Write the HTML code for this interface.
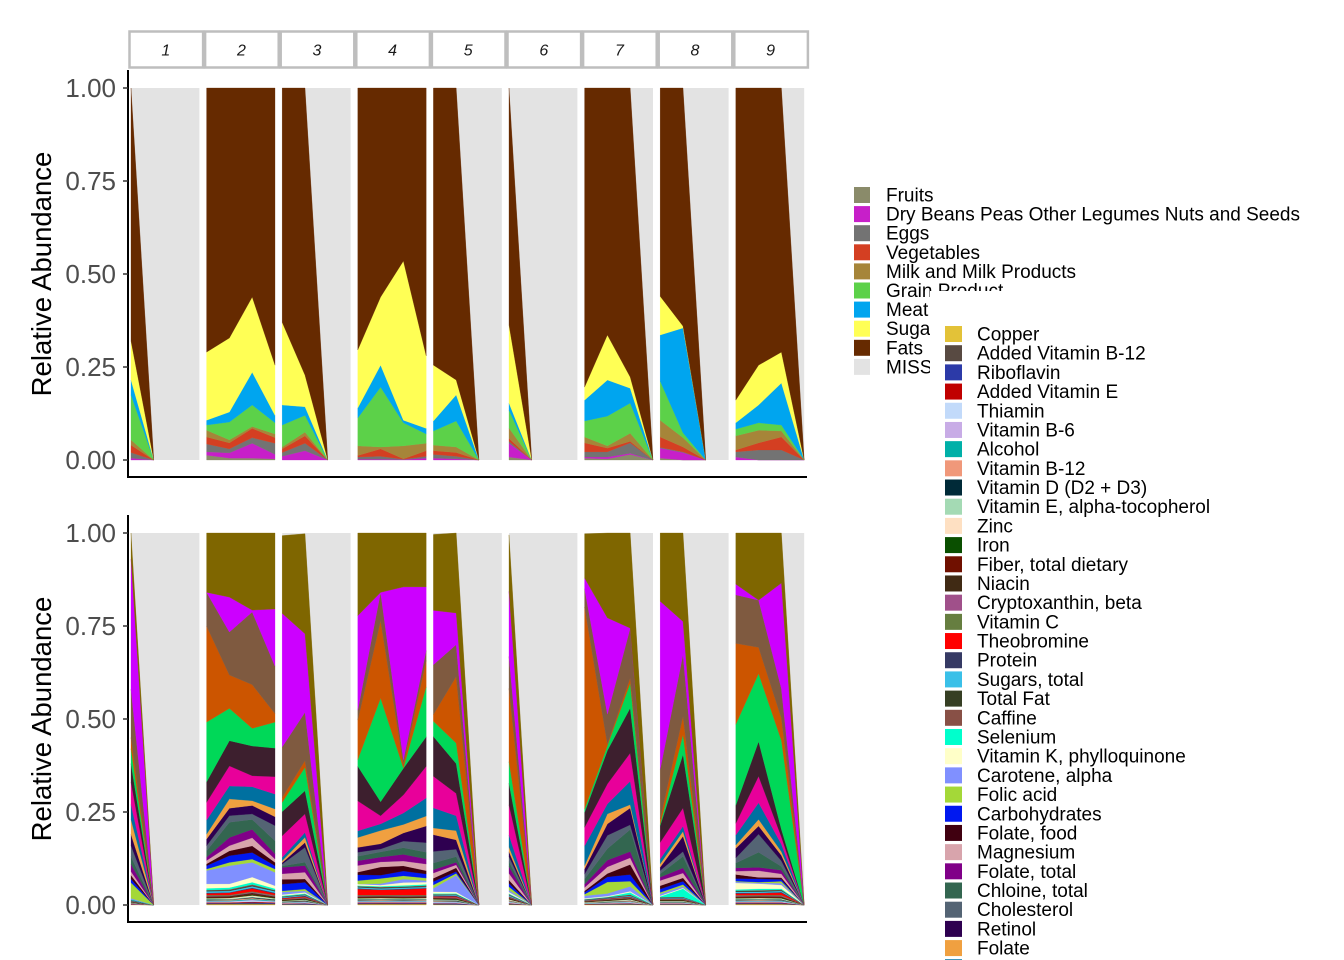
<!DOCTYPE html>
<html><head><meta charset="utf-8">
<style>
html,body{margin:0;padding:0;background:#fff;overflow:hidden;width:1344px;height:960px}
svg{display:block;font-family:"Liberation Sans",Arial,sans-serif}
</style></head>
<body>
<svg id="chart" width="1344" height="960" viewBox="0 0 1344 960" xmlns="http://www.w3.org/2000/svg"></svg>
<script>
// ---- sample structure (facet id and time index) ----
const sampleFacet = [1,1,2,2,2,2,3,3,3,4,4,4,4,5,5,5,6,6,7,7,7,7,8,8,8,9,9,9,9];
const sampleTime  = [0,1,0,1,2,3,0,1,2,0,1,2,3,0,1,2,0,1,0,1,2,3,0,1,2,0,1,2,3];
const facetLabels = ["1","2","3","4","5","6","7","8","9"];
const yTickLabels = ["0.00","0.25","0.50","0.75","1.00"];
const yTickValues = [0,0.25,0.5,0.75,1];

// ---- top chart: food groups (per-mille) ----
const foodNames = ["Fruits","Dry Beans Peas Other Legumes Nuts and Seeds","Eggs","Vegetables","Milk and Milk Products","Grain Product","Meat","Sugar","Fats"];
const foodColors = ["#8A8B6A","#C71FC9","#737373","#D43F22","#A68539","#5CD149","#00A5EF","#FFFF55","#662A00"];
const fruits = [0,0,13,5,5,3,0,0,0,0,0,0,0,0,0,0,8,0,5,3,15,0,5,0,0,0,0,0,0];
const beans  = [5,0,9,14,40,12,10,25,0,2,2,1,5,5,3,0,37,0,3,5,3,0,27,20,0,8,0,0,0];
const eggs   = [15,0,21,11,15,30,10,20,0,6,8,1,5,10,7,0,5,0,14,14,28,0,2,2,0,14,27,27,0];
const veg    = [20,0,19,16,25,15,10,20,0,4,20,1,15,10,10,0,8,0,24,10,4,0,28,13,0,5,19,35,0];
const milk   = [14,0,18,8,5,10,5,10,0,26,5,35,20,15,15,0,28,0,16,6,22,0,45,25,0,38,34,16,0];
const grain  = [121,0,14,48,58,30,59,45,0,75,161,62,25,38,70,0,48,0,43,80,81,0,105,13,0,18,20,16,0];
const meat   = [40,0,13,27,88,20,54,23,0,27,59,7,15,27,70,0,19,0,56,97,40,0,124,282,0,17,48,113,0];
const sugar  = [105,0,183,199,202,135,222,85,0,156,183,428,195,150,40,0,210,0,35,121,30,0,104,5,0,61,107,83,0];
const fats   = [680,0,710,672,562,745,630,772,0,704,562,465,720,745,785,0,637,0,804,664,777,0,560,640,0,839,745,710,0];
const foodSeries = [fruits,beans,eggs,veg,milk,grain,meat,sugar,fats];

// ---- bottom chart: nutrients (per-mille, normalised per sample) ----
const copper   = [1,0,2,2,2,2,1,1,0,2,2,2,2,1,1,0,1,0,1,1,1,0,1,1,0,2,2,2,0];
const addB12   = [0,0,1,2,3,1,1,1,0,1,2,1,2,2,1,0,2,0,1,1,2,0,1,1,0,1,2,1,0];
const ribo     = [1,0,2,1,2,2,1,2,0,2,1,2,1,1,2,0,1,0,0,1,1,0,1,1,0,2,1,2,0];
const addE     = [1,0,2,2,2,2,1,1,0,2,2,2,2,1,1,0,1,0,1,1,1,0,1,1,0,2,2,2,0];
const thiamin  = [0,0,1,2,3,1,1,1,0,1,2,1,2,2,1,0,2,0,1,1,2,0,1,1,0,1,2,1,0];
const b6       = [1,0,2,1,2,2,1,2,0,2,1,2,1,1,2,0,1,0,0,1,1,0,1,1,0,2,1,2,0];
const alcohol  = [0,0,2,2,2,2,1,1,0,2,2,2,2,1,1,0,1,0,1,1,1,0,1,1,0,2,2,2,0];
const b12      = [1,0,1,2,3,1,1,1,0,1,2,1,2,2,1,0,2,0,1,1,2,0,1,1,0,1,2,1,0];
const vitD     = [1,0,2,1,2,2,1,2,0,2,1,2,1,1,2,0,1,0,0,1,1,0,1,1,0,2,1,2,0];
const vitE     = [1,0,2,2,2,2,1,1,0,2,2,2,2,1,1,0,1,0,1,1,1,0,1,1,0,2,2,2,0];
const zinc     = [0,0,1,2,3,1,1,1,0,1,2,1,2,2,1,0,2,0,1,1,2,0,1,1,0,1,2,1,0];
const iron     = [1,0,2,1,2,2,1,2,0,2,1,2,1,1,2,0,1,0,0,1,1,0,1,1,0,2,1,2,0];
const fiber    = [1,0,2,2,2,2,1,1,0,2,2,2,2,1,1,0,1,0,1,1,1,0,1,1,0,2,2,2,0];
const niacin   = [0,0,1,2,3,1,1,1,0,1,2,1,2,2,1,0,2,0,1,1,2,0,1,1,0,1,2,1,0];
const crypto   = [1,0,2,1,2,2,1,2,0,2,1,2,1,1,2,0,1,0,0,1,1,0,1,1,0,2,1,2,0];
const vitC     = [1,0,2,2,2,2,1,1,0,2,2,2,2,1,1,0,1,0,1,1,1,0,1,1,0,2,2,2,0];
const theobr   = [0,0,4,6,8,4,2,2,0,16,14,15,18,2,2,0,1,0,1,1,1,0,1,1,0,4,5,6,0];
const protein  = [1,0,2,1,2,2,1,2,0,2,1,2,1,1,2,0,1,0,0,1,1,0,1,1,0,2,1,2,0];
const sugars   = [1,0,4,4,4,4,2,2,0,3,3,3,3,2,2,0,3,0,1,1,2,0,1,2,0,3,3,3,0];
const totFat   = [1,0,2,2,2,2,1,1,0,2,2,2,2,1,1,0,1,0,1,1,1,0,1,1,0,2,2,2,0];
const caffine  = [0,0,1,2,3,1,1,1,0,1,2,1,2,2,1,0,2,0,1,1,2,0,1,1,0,1,2,1,0];
const selenium = [1,0,5,5,6,4,2,2,0,2,2,3,3,2,2,0,2,0,1,1,6,0,2,22,0,3,4,3,0];
const vitK     = [0,0,12,10,14,8,3,3,0,4,3,8,6,5,4,0,4,0,2,2,3,0,2,2,0,18,14,10,0];
const carotene = [3,0,36,49,40,36,7,4,0,0,4,9,4,9,45,0,5,0,7,7,13,0,5,4,0,3,2,5,0];
const folicAc  = [42,0,4,9,9,9,3,5,0,9,14,9,7,9,5,0,9,0,4,31,14,0,4,5,0,2,2,5,0];
const carbs    = [10,0,9,18,18,9,18,18,0,16,9,13,11,9,5,0,9,0,5,14,18,0,9,9,0,7,9,5,0];
const folFood  = [10,0,5,13,18,9,13,9,0,7,22,14,9,9,10,0,9,0,4,9,27,0,9,9,0,11,4,5,0];
const magnes   = [10,0,9,14,22,9,15,18,0,18,14,13,18,14,8,0,18,0,9,18,18,0,14,13,0,9,18,10,0];
const folTot   = [20,0,9,22,23,14,17,18,0,13,13,18,14,9,7,0,18,0,9,18,17,0,9,14,0,9,9,10,0];
const choline  = [20,0,17,41,27,35,4,9,0,12,14,18,18,18,15,0,13,0,14,31,59,0,9,31,0,13,41,10,0];
const cholest  = [30,0,14,18,15,41,5,40,0,11,8,18,26,31,20,0,14,0,13,36,13,0,9,13,0,14,49,15,0];
const retinol  = [30,0,18,20,23,24,4,13,0,13,14,22,45,45,25,0,13,0,14,31,45,0,9,41,0,26,22,15,0];
const folate   = [40,0,13,25,13,21,5,14,0,27,36,23,27,18,25,0,13,0,9,27,9,0,9,13,0,9,18,10,0];
const vitA     = [40,0,38,35,38,40,9,13,0,18,18,31,49,54,40,0,32,0,53,27,63,0,13,14,0,27,45,20,0];
const calcium  = [60,0,48,54,30,47,58,50,0,81,22,49,86,85,60,0,81,0,50,54,76,0,45,49,0,32,72,20,0];
const sodium   = [50,0,55,68,81,77,65,62,0,94,38,72,80,107,80,0,58,0,40,90,121,0,45,144,0,49,94,20,0];
const potass   = [40,0,161,87,48,70,25,63,0,18,281,1,135,41,55,0,58,0,9,13,67,0,4,53,0,220,184,240,0];
const phosph   = [30,0,259,90,119,23,13,18,0,107,210,9,72,18,179,0,197,0,543,4,14,0,14,50,0,220,71,60,0];
const energy   = [130,0,91,116,198,128,136,130,0,27,77,13,27,134,86,0,86,0,49,81,134,0,134,166,0,132,128,80,0];
const water    = [350,0,0,94,5,154,359,211,0,256,0,468,172,146,85,0,175,0,29,260,0,0,453,89,0,29,0,285,0];
const lutein   = [70,0,160,173,210,205,209,269,0,224,161,146,146,204,215,0,152,0,119,229,256,0,184,238,0,139,182,135,0];
const nutNames = ["Copper","Added Vitamin B-12","Riboflavin","Added Vitamin E","Thiamin","Vitamin B-6","Alcohol","Vitamin B-12","Vitamin D (D2 + D3)","Vitamin E, alpha-tocopherol","Zinc","Iron","Fiber, total dietary","Niacin","Cryptoxanthin, beta","Vitamin C","Theobromine","Protein","Sugars, total","Total Fat","Caffine","Selenium","Vitamin K, phylloquinone","Carotene, alpha","Folic acid","Carbohydrates","Folate, food","Magnesium","Folate, total","Chloine, total","Cholesterol","Retinol","Folate","Vitamin A, RAE","Calcium","Sodium","Potassium","Phosphorus","Energy","Water","Lutein + zeaxanthin"];
const nutColors = ["#E3C238","#584A42","#2C3AA8","#C00000","#C2DAFA","#C8ACE6","#00B0A8","#F0987A","#002A38","#A4DAB4","#FEE0C2","#0A4F00","#701000","#402A14","#A0508A","#667E40","#FF0000","#363A64","#3AC0E8","#363F24","#885046","#00FFCC","#FFFFC8","#8090FF","#A4D838","#0018F0","#400010","#D8A4AC","#800088","#336650","#546474","#2E0050","#F0A040","#0070A0","#E8009A","#3D1F2E","#00D858","#CC5500","#7F5A40","#CC00FF","#7F6600"];
const nutSeries = [copper,addB12,ribo,addE,thiamin,b6,alcohol,b12,vitD,vitE,zinc,iron,fiber,niacin,crypto,vitC,theobr,protein,sugars,totFat,caffine,selenium,vitK,carotene,folicAc,carbs,folFood,magnes,folTot,choline,cholest,retinol,folate,vitA,calcium,sodium,potass,phosph,energy,water,lutein];

const NS="http://www.w3.org/2000/svg";
const svg=document.getElementById('chart');
function mk(tag,attrs,parent){const e=document.createElementNS(NS,tag);for(const k in attrs)e.setAttribute(k,attrs[k]);(parent||svg).appendChild(e);return e;}

const panelLeft0=131, panelStep=75.6, panelW=68.4, timeStep=22.8;
function xPos(facet,t){return panelLeft0+(facet-1)*panelStep+t*timeStep;}
function yScale(top,bottom){return v=>bottom-v*(bottom-top);}

// strips
facetLabels.forEach((lab,i)=>{
  const x=panelLeft0+i*panelStep-2;
  const r=mk('rect',{x:x+0.5,y:31.5,width:panelStep-2,height:36,fill:'#fff',stroke:'#BEBEBE','stroke-width':2.5});
  
  
  const t=mk('text',{x:x+(panelStep-2)/2,y:55.5,'text-anchor':'middle','font-size':16,'font-style':'italic',fill:'#1A1A1A'});
  t.textContent=lab;
  
  
});

function drawChart(top,bottom,series,colors,prefix){
  const ys=yScale(top,bottom);
  const g=mk('g',{});
  
  
  for(let f=1;f<=9;f++){
    const bg=mk('rect',{x:xPos(f,0),y:top,width:panelW,height:bottom-top,fill:'#E3E3E3'},g);
    
    
    const idx=[];sampleFacet.forEach((ff,i)=>{if(ff===f)idx.push(i);});
    idx.sort((a,b)=>sampleTime[a]-sampleTime[b]);
    const tot=idx.map(i=>{let s=0;series.forEach(a=>{s+=a[i];});return s>1000?s:1000;});
    const cum=idx.map(()=>0);
    series.forEach((s,si)=>{
      const lo=cum.slice();
      idx.forEach((i,k)=>{cum[k]+=s[i]/tot[k];});
      if(idx.every((i)=>s[i]===0))return;
      let pts=idx.map((i,k)=>xPos(f,sampleTime[i]).toFixed(2)+','+ys(cum[k]).toFixed(2));
      for(let k=idx.length-1;k>=0;k--)pts.push(xPos(f,sampleTime[idx[k]]).toFixed(2)+','+ys(lo[k]).toFixed(2));
      const p=mk('polygon',{points:pts.join(' '),fill:colors[si],stroke:colors[si],'stroke-width':0.3},g);
      
      
    });
  }
  const ax=mk('line',{x1:128,y1:top-18,x2:128,y2:bottom+18,stroke:'#000','stroke-width':2});
  
  
  const xa=mk('line',{x1:127,y1:bottom+17,x2:807,y2:bottom+17,stroke:'#000','stroke-width':2});
  
  
  yTickValues.forEach((v,i)=>{
    const y=ys(v);
    const tk=mk('line',{x1:123,y1:y,x2:128,y2:y,stroke:'#333','stroke-width':1.5});
    
    
    const t=mk('text',{x:116,y:y+9,'text-anchor':'end','font-size':26,fill:'#4D4D4D'});
    t.textContent=yTickLabels[i];
    
    
  });
  const tt=mk('text',{x:0,y:0,'text-anchor':'middle','font-size':27.5,fill:'#000',transform:'translate(51,'+((top+bottom)/2)+') rotate(-90)'});
  tt.textContent='Relative Abundance';
  
  
}
drawChart(88,460,foodSeries,foodColors,'food');
drawChart(533,905,nutSeries,nutColors,'nutrient');

// legend 1
const leg1Names=foodNames.concat(["MISS"]);
const leg1Colors=foodColors.concat(["#E3E3E3"]);
leg1Names.forEach((n,i)=>{
  const y=195+i*19.1;
  const r=mk('rect',{x:854,y:y-8,width:16,height:16,fill:leg1Colors[i]});
  
  
  const t=mk('text',{x:886,y:y+6.5,'font-size':19,fill:'#000'});
  t.textContent=n;
  
  
});
// legend 2 (overlaps legend 1; clipped at frame bottom)
const lb=mk('rect',{x:930,y:291,width:414,height:669,fill:'#fff'});


nutNames.forEach((n,i)=>{
  const y=334+i*19.19;
  if(y-8>=960)return;
  if(y+8>960){
    const r=mk('rect',{x:945,y:y-8,width:17,height:960-(y-8),fill:nutColors[i]});
    
    
    return;
  }
  const r=mk('rect',{x:945,y:y-8,width:17,height:16,fill:nutColors[i]});
  
  
  const t=mk('text',{x:977,y:y+6.5,'font-size':19,fill:'#000'});
  t.textContent=n;
  
  
});
</script>
</body></html>
